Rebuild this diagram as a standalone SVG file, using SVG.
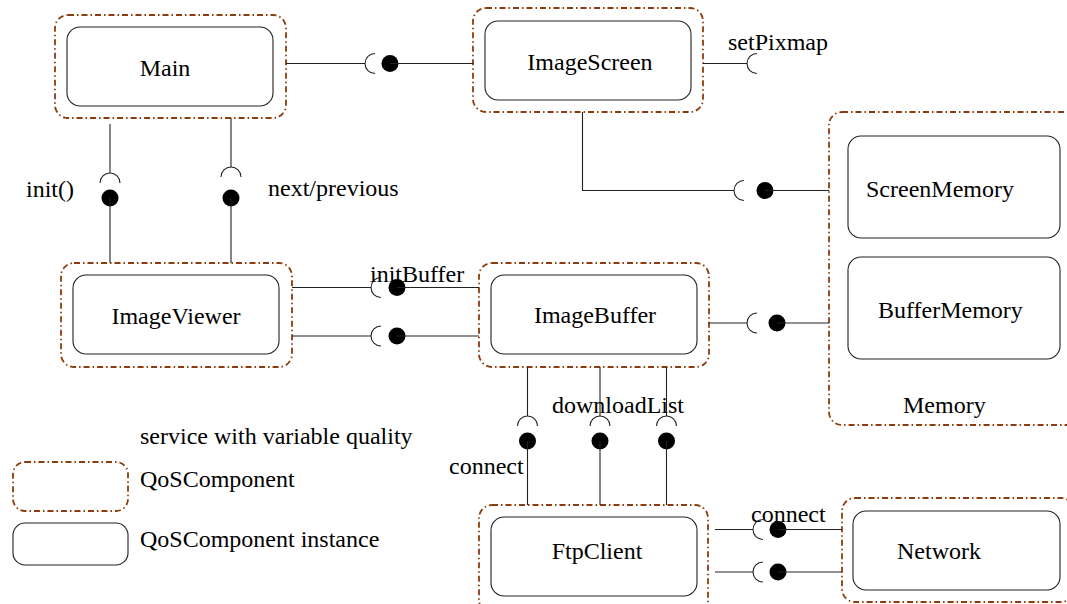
<svg xmlns="http://www.w3.org/2000/svg" width="1067" height="604" viewBox="0 0 1067 604">
<style>
.outer{fill:none;stroke:#8c3c0c;stroke-width:1.8;stroke-dasharray:6 3 1.5 3}
.inner{fill:none;stroke:#222;stroke-width:1.1}
.ln{fill:none;stroke:#222;stroke-width:1.1}
.sock{fill:none;stroke:#222;stroke-width:1.1}
.ball{fill:#000}
text{font-family:"Liberation Serif","Times New Roman",serif;font-size:24px;fill:#000}
.c{text-anchor:middle}
</style>
<rect width="1067" height="604" fill="#fff"/>
<g id="Main">
<rect class="outer" x="55" y="15" width="231" height="103" rx="13"/>
<rect class="inner" x="67" y="27" width="206" height="79" rx="13"/>
<text class="c" x="165" y="76">Main</text>
</g>
<g id="ImageScreen">
<rect class="outer" x="473" y="8" width="230" height="104" rx="13"/>
<rect class="inner" x="485" y="21" width="206" height="79" rx="13"/>
<text class="c" x="590" y="70">ImageScreen</text>
</g>
<g id="Memory">
<rect class="outer" x="829" y="112" width="260" height="313" rx="13"/>
<text x="903" y="413">Memory</text>
</g>
<g id="ScreenMemory">
<rect class="inner" x="848" y="136" width="212" height="102" rx="13"/>
<text x="866" y="197">ScreenMemory</text>
</g>
<g id="BufferMemory">
<rect class="inner" x="848" y="257" width="212" height="102" rx="13"/>
<text x="878" y="318">BufferMemory</text>
</g>
<g id="ImageViewer">
<rect class="outer" x="61" y="263" width="231" height="104" rx="13"/>
<rect class="inner" x="73" y="275" width="206" height="79" rx="13"/>
<text class="c" x="176" y="324">ImageViewer</text>
</g>
<g id="ImageBuffer">
<rect class="outer" x="479" y="263" width="230" height="104" rx="13"/>
<rect class="inner" x="491" y="275" width="206" height="79" rx="13"/>
<text class="c" x="595" y="323">ImageBuffer</text>
</g>
<g id="FtpClient">
<rect class="outer" x="479" y="505" width="229" height="108" rx="13"/>
<rect class="inner" x="491" y="517" width="206" height="79" rx="13"/>
<text class="c" x="597" y="559">FtpClient</text>
</g>
<g id="Network">
<rect class="outer" x="842" y="498" width="232" height="104" rx="13"/>
<rect class="inner" x="853" y="511" width="207" height="79" rx="13"/>
<text x="897" y="559">Network</text>
</g>
<g id="connectors">
<!-- Main - ImageScreen -->
<path class="ln" d="M286 63.5H365"/>
<path class="sock" d="M375 53.5A10 10 0 0 0 375 73.5"/>
<circle class="ball" cx="390" cy="63.5" r="8.5"/>
<path class="ln" d="M390 63.5H473"/>
<!-- setPixmap -->
<path class="ln" d="M703 63.5H747"/>
<path class="sock" d="M757 53.5A10 10 0 0 0 757 73.5"/>
<!-- ImageScreen - ScreenMemory -->
<path class="ln" d="M582.5 112V190.5H734"/>
<path class="sock" d="M744 180.5A10 10 0 0 0 744 200.5"/>
<circle class="ball" cx="765" cy="190.5" r="8.5"/>
<path class="ln" d="M765 190.5H829"/>
<!-- ImageBuffer - BufferMemory -->
<path class="ln" d="M709 323H747"/>
<path class="sock" d="M757 313A10 10 0 0 0 757 333"/>
<circle class="ball" cx="777" cy="323" r="8.5"/>
<path class="ln" d="M777 323H829"/>
<!-- Main - ImageViewer -->
<path class="ln" d="M110 124V173"/>
<path class="sock" d="M100 183A10 10 0 0 1 120 183"/>
<circle class="ball" cx="110" cy="198" r="8.5"/>
<path class="ln" d="M110 198V263"/>
<path class="ln" d="M231 118V167"/>
<path class="sock" d="M221 177A10 10 0 0 1 241 177"/>
<circle class="ball" cx="231" cy="198" r="8.5"/>
<path class="ln" d="M231 198V263"/>
<!-- ImageViewer - ImageBuffer -->
<path class="ln" d="M292 287.5H371"/>
<path class="sock" d="M381 277.5A10 10 0 0 0 381 297.5"/>
<circle class="ball" cx="397" cy="287.5" r="8.5"/>
<path class="ln" d="M397 287.5H479"/>
<path class="ln" d="M292 336H371"/>
<path class="sock" d="M381 326A10 10 0 0 0 381 346"/>
<circle class="ball" cx="397" cy="336" r="8.5"/>
<path class="ln" d="M397 336H479"/>
<!-- ImageBuffer - FtpClient -->
<path class="ln" d="M527.5 367V416"/>
<path class="sock" d="M517.5 426A10 10 0 0 1 537.5 426"/>
<circle class="ball" cx="527.5" cy="441" r="8.5"/>
<path class="ln" d="M527.5 441V505"/>
<path class="ln" d="M600 367V416"/>
<path class="sock" d="M590 426A10 10 0 0 1 610 426"/>
<circle class="ball" cx="600" cy="441" r="8.5"/>
<path class="ln" d="M600 441V505"/>
<path class="ln" d="M666.5 367V416"/>
<path class="sock" d="M656.5 426A10 10 0 0 1 676.5 426"/>
<circle class="ball" cx="666.5" cy="441" r="8.5"/>
<path class="ln" d="M666.5 441V505"/>
<!-- FtpClient - Network -->
<path class="ln" d="M715 529.5H753"/>
<path class="sock" d="M763 519.5A10 10 0 0 0 763 539.5"/>
<circle class="ball" cx="778" cy="529.5" r="8.5"/>
<path class="ln" d="M778 529.5H842"/>
<path class="ln" d="M715 572H753"/>
<path class="sock" d="M763 562A10 10 0 0 0 763 582"/>
<circle class="ball" cx="778" cy="572" r="8.5"/>
<path class="ln" d="M778 572H842"/>
</g>
<g id="labels">
<text x="728" y="50">setPixmap</text>
<text x="26" y="197">init()</text>
<text x="268" y="196">next/previous</text>
<text x="370" y="282">initBuffer</text>
<text x="552" y="413">downloadList</text>
<text x="449" y="474">connect</text>
<text x="751" y="522">connect</text>
</g>
<g id="legend">
<text x="140" y="444">service with variable quality</text>
<rect class="outer" x="13" y="462" width="115" height="49" rx="12"/>
<text x="140" y="487">QoSComponent</text>
<rect class="inner" x="13" y="523" width="115" height="42" rx="12"/>
<text x="140" y="547">QoSComponent instance</text>
</g>
</svg>
